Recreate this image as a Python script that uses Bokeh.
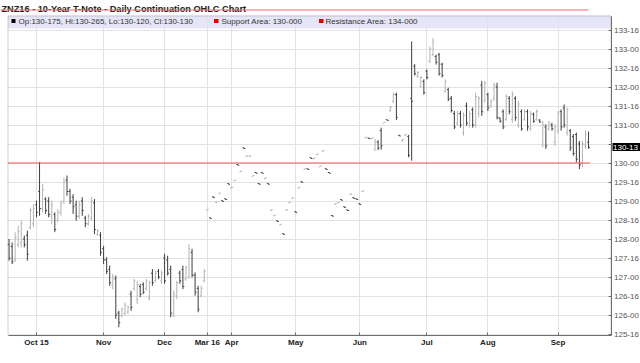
from bokeh.plotting import figure
from bokeh.models import (ColumnDataSource, Range1d, LinearAxis, FixedTicker,
                          Grid, BoxAnnotation, Label)
from bokeh.embed import file_html
from bokeh.resources import INLINE

# ---------------- data (trading-day index, OHLC) ----------------
day = list(range(1, 192))

opens = [
    # Sep-Dec 2015
    127.85, 127.80, 127.45, 127.85, 127.90, 128.00, 128.10, 128.30, 128.40, 128.90,
    129.25, 128.80, 129.05, 129.00, 128.60, 128.65, 128.50, 128.70, 129.00, 129.55,
    129.25, 129.10, 128.90, 128.60, 129.00, 128.55, 128.40, 128.55, 128.95, 128.12,
    128.10, 127.75, 127.45, 127.20, 126.80, 126.95, 126.05, 125.98, 126.05, 126.08,
    126.55, 126.70, 126.40, 126.75, 126.80, 126.70, 126.45, 127.10, 126.90, 127.15,
    126.90, 127.50, 127.45, 127.20, 126.00, 126.50, 127.10, 127.20, 126.95, 127.00,
    127.65, 127.05, 126.70, 126.50, 126.90,
    # Mar-May 2016
    128.76, 128.56, 129.11, 128.96, 129.19, 129.01, 129.06, 129.46, 129.34, 129.53,
    129.96, 129.77, 130.40, 130.17, 130.17, 129.65, 129.75, 129.46, 129.75, 129.59,
    129.46, 128.75, 128.61, 128.48, 128.37, 128.14, 128.75, 128.95, 129.07, 128.72,
    129.34, 129.51, 129.83, 129.85, 130.14, 130.11, 130.22, 129.90, 130.31, 129.85,
    129.75, 128.62, 128.91, 128.95, 129.04, 128.85, 128.77, 129.17, 129.09, 129.06,
    128.93, 129.25,
    # Jun-Sep 2016
    130.66, 130.66, 130.64, 130.35, 130.55, 130.85, 131.05, 131.14, 131.38, 131.62,
    131.80, 130.73, 130.58, 130.73, 130.70, 131.70, 132.55, 132.28, 132.02, 132.15,
    132.42, 132.68, 132.85, 132.80, 132.85, 132.60, 131.90, 131.93, 131.70, 131.30,
    131.05, 131.30, 130.80, 131.50, 131.00, 131.40, 131.00, 131.30, 132.05, 131.65,
    131.80, 131.50, 131.70, 132.00, 131.18, 131.35, 131.15, 131.70, 131.15, 131.70,
    131.00, 131.35, 131.15, 131.35, 130.90, 131.28, 131.15, 131.13, 130.50, 130.95,
    130.90, 131.00, 130.55, 130.85, 131.35, 131.45, 130.80, 130.85, 130.70, 130.75,
    130.50, 130.00, 130.45, 130.547,
]

highs = [
    128.00, 127.91, 128.18, 128.35, 128.48, 128.09, 128.22, 128.83, 128.92, 129.01,
    130.03, 129.45, 129.10, 129.10, 129.01, 128.70, 128.79, 129.01, 129.62, 129.67,
    129.32, 129.18, 129.01, 129.01, 129.10, 128.61, 128.66, 129.10, 129.05, 128.26,
    128.18, 127.82, 127.52, 127.30, 127.08, 127.04, 126.11, 126.20, 126.33, 126.25,
    126.64, 126.95, 126.90, 126.82, 126.86, 126.95, 126.90, 127.21, 127.17, 127.21,
    127.17, 127.61, 127.56, 127.30, 126.64, 126.90, 127.17, 127.30, 127.30, 127.87,
    127.74, 127.12, 126.77, 126.77, 127.21,
    128.78, 128.56, 129.11, 128.98, 129.21, 129.01, 129.06, 129.46, 129.36, 129.55,
    129.96, 129.79, 130.40, 130.19, 130.19, 129.67, 129.75, 129.46, 129.75, 129.61,
    129.46, 128.77, 128.63, 128.48, 128.39, 128.14, 128.77, 128.97, 129.09, 128.72,
    129.36, 129.51, 129.85, 129.85, 130.14, 130.13, 130.24, 129.92, 130.33, 129.85,
    129.75, 128.62, 128.93, 128.97, 129.04, 128.85, 128.77, 129.19, 129.09, 129.06,
    128.93, 129.27,
    130.68, 130.66, 130.66, 130.63, 130.60, 130.93, 131.07, 131.14, 131.50, 131.85,
    131.85, 130.73, 130.63, 130.75, 130.74, 133.20, 132.60, 132.42, 132.29, 132.20,
    132.46, 133.07, 133.29, 132.85, 132.90, 132.64, 132.20, 131.98, 131.76, 131.37,
    131.37, 131.37, 131.33, 131.59, 131.37, 131.46, 131.85, 131.76, 132.16, 132.16,
    131.85, 131.68, 132.11, 132.11, 131.20, 131.41, 131.81, 131.76, 131.89, 131.76,
    131.63, 131.41, 131.41, 131.41, 131.37, 131.33, 131.41, 131.15, 131.11, 131.02,
    131.11, 131.06, 131.02, 131.37, 131.41, 131.54, 131.46, 130.89, 130.76, 130.80,
    130.58, 130.58, 130.85, 130.828,
]

lows = [
    127.43, 127.34, 127.39, 127.78, 127.78, 127.78, 127.43, 128.26, 128.31, 128.57,
    128.61, 128.70, 128.66, 128.57, 128.39, 128.18, 128.44, 128.61, 128.92, 129.14,
    128.92, 128.66, 128.48, 128.53, 128.61, 128.31, 128.35, 128.48, 128.13, 128.09,
    127.56, 127.34, 127.08, 126.77, 126.68, 125.90, 125.68, 125.94, 125.98, 126.03,
    126.11, 126.64, 126.29, 126.47, 126.55, 126.64, 126.38, 126.77, 126.86, 126.95,
    126.82, 126.82, 127.04, 125.94, 125.94, 126.42, 126.82, 126.68, 126.90, 126.95,
    126.99, 126.51, 126.07, 126.47, 126.86,
    128.76, 128.54, 129.09, 128.96, 129.19, 128.99, 129.04, 129.44, 129.34, 129.53,
    129.94, 129.77, 130.38, 130.17, 130.17, 129.65, 129.73, 129.44, 129.73, 129.59,
    129.44, 128.75, 128.61, 128.46, 128.37, 128.12, 128.75, 128.95, 129.07, 128.70,
    129.34, 129.49, 129.83, 129.83, 130.12, 130.11, 130.22, 129.90, 130.31, 129.83,
    129.73, 128.60, 128.91, 128.95, 129.02, 128.83, 128.75, 129.17, 129.07, 129.04,
    128.91, 129.25,
    130.66, 130.64, 130.64, 130.32, 130.34, 130.35, 131.05, 131.12, 131.35, 131.59,
    131.13, 130.71, 130.57, 130.73, 130.15, 130.06, 132.30, 132.24, 131.98, 131.80,
    132.20, 132.63, 132.81, 132.59, 132.30, 132.25, 131.85, 131.63, 131.33, 130.89,
    130.98, 130.93, 130.72, 130.98, 130.93, 130.93, 130.93, 131.20, 131.24, 131.59,
    131.37, 131.46, 131.63, 131.15, 131.06, 130.89, 131.11, 131.28, 131.06, 131.11,
    130.93, 130.85, 131.11, 130.85, 130.85, 131.06, 131.11, 131.06, 130.41, 130.37,
    130.85, 130.85, 130.45, 130.76, 130.85, 130.93, 130.72, 130.32, 130.19, 130.02,
    129.84, 129.89, 130.37, 130.375,
]

closes = [
    127.50, 127.40, 128.05, 128.20, 128.40, 127.85, 127.60, 128.75, 128.80, 128.70,
    128.80, 129.30, 128.75, 128.65, 128.90, 128.25, 128.70, 128.95, 129.50, 129.25,
    129.00, 128.85, 128.60, 128.90, 128.75, 128.40, 128.60, 129.00, 128.25, 128.22,
    127.65, 127.45, 127.15, 126.85, 127.00, 126.00, 125.80, 126.15, 126.25, 126.20,
    126.20, 126.90, 126.80, 126.55, 126.60, 126.90, 126.85, 126.85, 127.10, 127.00,
    127.10, 126.90, 127.10, 126.05, 126.55, 126.85, 126.90, 126.75, 127.25, 127.75,
    127.05, 126.60, 126.15, 126.70, 127.15,
    128.78, 128.54, 129.09, 128.98, 129.21, 128.99, 129.04, 129.44, 129.36, 129.55,
    129.94, 129.79, 130.38, 130.19, 130.19, 129.67, 129.73, 129.44, 129.73, 129.61,
    129.44, 128.77, 128.63, 128.46, 128.39, 128.12, 128.77, 128.97, 129.09, 128.70,
    129.36, 129.49, 129.85, 129.83, 130.12, 130.13, 130.24, 129.92, 130.33, 129.83,
    129.73, 128.60, 128.93, 128.97, 129.02, 128.83, 128.75, 129.19, 129.07, 129.04,
    128.91, 129.27,
    130.68, 130.64, 130.66, 130.55, 130.40, 130.45, 131.07, 131.12, 131.46, 131.80,
    131.20, 130.71, 130.62, 130.75, 130.20, 131.63, 132.35, 132.38, 132.25, 131.85,
    132.25, 133.00, 133.20, 132.65, 132.35, 132.30, 132.15, 131.68, 131.38, 130.95,
    131.30, 131.00, 131.25, 131.05, 131.30, 131.00, 131.75, 131.70, 131.35, 132.10,
    131.45, 131.62, 132.05, 131.20, 131.10, 130.95, 131.75, 131.35, 131.80, 131.20,
    131.55, 130.90, 131.35, 130.95, 131.30, 131.10, 131.35, 131.08, 131.00, 130.45,
    131.05, 130.90, 130.95, 131.30, 130.95, 131.00, 131.40, 130.40, 130.25, 130.10,
    129.95, 130.50, 130.75, 130.406,
]

month_ticks = [10, 32, 52, 66, 74, 95, 116, 138, 158, 181]
month_labels = ["Oct 15", "Nov", "Dec", "Mar 16", "Apr", "May", "Jun", "Jul", "Aug", "Sep"]

price_ticks = [125.5, 126.0, 126.5, 127.0, 127.5, 128.0, 128.5, 129.0, 129.5,
               130.0, 130.5, 131.0, 131.5, 132.0, 132.5, 133.0, 133.5]
price_labels = ["125-16", "126-00", "126-16", "127-00", "127-16", "128-00", "128-16",
                "129-00", "129-16", "130-00", "", "131-00", "131-16", "132-00",
                "132-16", "133-00", "133-16"]

support_level = 130.0
last_price = 130.40625
last_price_label = "130-13"

title_text = "ZNZ16 - 10-Year T-Note - Daily Continuation OHLC Chart"
legend_ohlc = "Op:130-175, Hi:130-265, Lo:130-120, Cl:130-130"
legend_support = "Support Area: 130-000"
legend_resistance = "Resistance Area: 134-000"

# ---------------- geometry (canvas pixels; frame = whole canvas) ----------------
W, H = 640, 363
PX_DAY = 3.05
PX_PT = 38.0
x_start = month_ticks[0] - 36 / PX_DAY          # first month line at x = 36 px
x_end = x_start + W / PX_DAY
y_top = support_level + 162.5 / PX_PT          # 130-00 line at y = 162.5 px
y_bottom = y_top - H / PX_PT


def X(px):
    return x_start + px / PX_DAY


def Y(py):
    return y_top - py / PX_PT


BOX_L, BOX_R, BOX_T, BOX_B = X(7.5), X(610.5), Y(15.5), Y(334.5)

FONT = "Liberation Sans"
EDGE = "#6e6e6e"
GRID = "#e2e2e2"
DARK = "#3c3c3c"
LIGHT = "#b3b3b3"

p = figure(width=W, height=H, x_range=Range1d(x_start, x_end), y_range=Range1d(y_bottom, y_top),
           output_backend="svg", toolbar_location=None,
           x_axis_location=None, y_axis_location=None,
           min_border_left=0, min_border_right=0, min_border_top=0, min_border_bottom=0,
           background_fill_color="white", border_fill_color="white",
           outline_line_color=None)
p.xgrid.visible = False
p.ygrid.visible = False

# grids
p.add_layout(Grid(dimension=0, ticker=FixedTicker(ticks=month_ticks),
                  grid_line_color=GRID, grid_line_width=1))
p.add_layout(Grid(dimension=1, ticker=FixedTicker(ticks=price_ticks[1:]),
                  grid_line_color=GRID, grid_line_width=1))

# masks keeping grid lines inside the chart box
for l, r, t, b in [(x_start, x_end, y_top, Y(15)),
                   (x_start, x_end, Y(335), y_bottom),
                   (X(611), x_end, y_top, y_bottom),
                   (x_start, X(7), y_top, y_bottom)]:
    p.add_layout(BoxAnnotation(left=l, right=r, top=t, bottom=b, fill_color="white",
                               fill_alpha=1, line_color=None, level="underlay"))

# legend strip
p.add_layout(BoxAnnotation(left=BOX_L, right=BOX_R, top=Y(15), bottom=Y(28),
                           fill_color="#e0e0f6", fill_alpha=0.85, line_color=None, level="underlay"))

# bars
colors = [DARK if c < o else LIGHT for o, c in zip(opens, closes)]
src = ColumnDataSource(dict(x=day, o=opens, h=highs, l=lows, c=closes, color=colors,
                            xl=[d - 0.45 for d in day], xr=[d + 0.45 for d in day]))
p.segment(x0="x", y0="l", x1="x", y1="h", line_color="color", line_width=1, source=src)
p.segment(x0="xl", y0="o", x1="x", y1="o", line_color="color", line_width=1, source=src)
p.segment(x0="x", y0="c", x1="xr", y1="c", line_color="color", line_width=1, source=src)

# support line
p.segment(x0=[BOX_L], y0=[support_level], x1=[day[-1] + 0.45], y1=[support_level],
          line_color="#ff4d4d", line_width=1)

# chart border
p.add_layout(BoxAnnotation(left=BOX_L, right=BOX_R, top=BOX_T, bottom=BOX_B,
                           fill_color=None, line_color=EDGE, line_width=1))

# axes (pinned to the chart box)
xaxis = LinearAxis(fixed_location=BOX_B, bounds=(BOX_L, BOX_R),
                   ticker=FixedTicker(ticks=month_ticks),
                   major_label_overrides=dict(zip(month_ticks, month_labels)),
                   axis_line_color=EDGE, major_tick_in=3, major_tick_out=0,
                   major_tick_line_color=EDGE, minor_tick_line_color=None,
                   major_label_standoff=3, major_label_text_font=FONT,
                   major_label_text_font_style="bold", major_label_text_font_size="8px",
                   major_label_text_color="#222222")
p.add_layout(xaxis, "below")

yaxis = LinearAxis(fixed_location=BOX_R, bounds=(BOX_B, BOX_T),
                   ticker=FixedTicker(ticks=price_ticks),
                   major_label_overrides=dict(zip(price_ticks, price_labels)),
                   axis_line_color=EDGE, major_tick_in=3, major_tick_out=0,
                   major_tick_line_color=EDGE, minor_tick_line_color=None,
                   major_label_standoff=3, major_label_text_font=FONT,
                   major_label_text_font_size="8px", major_label_text_color="#555555")
p.add_layout(yaxis, "right")

# title and its underline
p.add_layout(Label(x=X(1), y=Y(8.6), text=title_text, text_baseline="alphabetic",
                   text_font=FONT, text_font_style="bold", text_font_size="9.2px",
                   text_color="#222222"))
p.add_layout(BoxAnnotation(left=X(0), right=X(588), top=Y(9), bottom=Y(10),
                           fill_color="#f06a6a", fill_alpha=1, line_color=None))

# legend entries
p.add_layout(BoxAnnotation(left=X(11), right=X(15), top=Y(18.5), bottom=Y(22.5),
                           fill_color="black", fill_alpha=1, line_color=None))
p.add_layout(Label(x=X(18), y=Y(20.5), text=legend_ohlc, text_baseline="middle",
                   text_font=FONT, text_font_size="8px", text_color="#333333"))
p.add_layout(BoxAnnotation(left=X(213.5), right=X(218), top=Y(18.5), bottom=Y(22.5),
                           fill_color="#e00000", fill_alpha=1, line_color=None))
p.add_layout(Label(x=X(221), y=Y(20.5), text=legend_support, text_baseline="middle",
                   text_font=FONT, text_font_size="8px", text_color="#333333"))
p.add_layout(BoxAnnotation(left=X(318.5), right=X(323), top=Y(18.5), bottom=Y(22.5),
                           fill_color="#e00000", fill_alpha=1, line_color=None))
p.add_layout(Label(x=X(325), y=Y(20.5), text=legend_resistance, text_baseline="middle",
                   text_font=FONT, text_font_size="8px", text_color="#333333"))

# last price marker on the price axis (black tag with white text)
p.add_layout(BoxAnnotation(left=X(612), right=X(640), top=Y(142.5), bottom=Y(150.5),
                           fill_color="black", fill_alpha=1, line_color=None))
p.add_layout(Label(x=X(612.5), y=last_price, text=last_price_label,
                   text_baseline="middle", text_font=FONT, text_font_size="8px",
                   text_color="white"))

open("out.html", "w").write(file_html(p, INLINE))
